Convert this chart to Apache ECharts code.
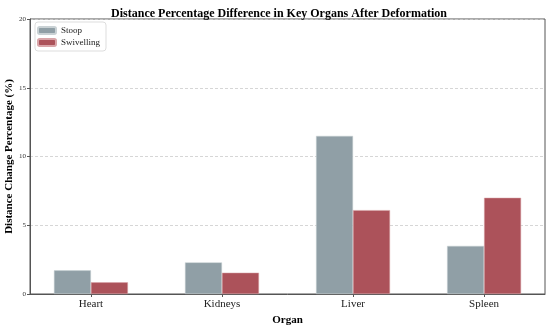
<!DOCTYPE html>
<html>
<head>
<meta charset="utf-8">
<script src="https://cdn.jsdelivr.net/npm/echarts@6/dist/echarts.min.js"></script>
<style>html,body{margin:0;padding:0;background:#fff}#c{width:550px;height:325px}</style>
</head>
<body>
<div id="c"></div>
<script>
const categories = ['Heart', 'Kidneys', 'Liver', 'Spleen'];
const stoop = [1.72, 2.3, 11.5, 3.5];
const swivelling = [0.85, 1.55, 6.1, 7.0];
const yTicks = [0, 5, 10, 15, 20];

const serif = '"Liberation Serif", "Times New Roman", serif';
const chart = echarts.init(document.getElementById('c'));
const idx = categories.map((_, i) => i);
chart.setOption({
  animation: false,
  title: {
    text: 'Distance Percentage Difference in Key Organs After Deformation',
    left: 274, top: 3, textAlign: 'center',
    textStyle: { fontFamily: serif, fontWeight: 'bold', fontSize: 12, color: '#000' }
  },
  legend: {
    orient: 'vertical', left: 35, top: 22,
    itemWidth: 18, itemHeight: 7, itemGap: 3,
    padding: [4, 6, 4, 2],
    backgroundColor: '#fff', borderColor: '#ddd', borderWidth: 1, borderRadius: 3,
    textStyle: { fontFamily: serif, fontSize: 9, color: '#222' },
    data: ['Stoop', 'Swivelling']
  },
  grid: { left: 30, right: 5, top: 19, bottom: 31, show: true, borderColor: '#555', borderWidth: 1, containLabel: false, outerBoundsMode: 'none' },
  xAxis: {
    type: 'value', min: -0.465, max: 3.465,
    name: 'Organ', nameLocation: 'middle', nameGap: 21,
    nameTextStyle: { fontFamily: serif, fontWeight: 'bold', fontSize: 11, color: '#000' },
    axisLine: { show: true, onZero: false, lineStyle: { color: '#555' } },
    axisTick: { show: true, customValues: idx, length: 3, lineStyle: { color: '#555' } },
    axisLabel: { customValues: idx, formatter: v => categories[Math.round(v)], fontFamily: serif, fontSize: 11, color: '#222', margin: 5 },
    splitLine: { show: false }
  },
  yAxis: {
    type: 'value', min: 0, max: 20, interval: 5,
    name: 'Distance Change Percentage (%)', nameLocation: 'middle', nameGap: 15,
    nameMoveOverlap: false,
    nameTextStyle: { fontFamily: serif, fontWeight: 'bold', fontSize: 11, color: '#000' },
    axisLine: { show: true, onZero: false, lineStyle: { color: '#555' } },
    axisTick: { show: true, length: 3, lineStyle: { color: '#555' } },
    axisLabel: { fontFamily: serif, fontSize: 7, color: '#333', margin: 4, formatter: v => yTicks.includes(v) ? String(v) : '' },
    splitLine: { show: true, lineStyle: { color: '#ccc', type: [3, 2], width: 0.8 } }
  },
  series: [
    {
      name: 'Stoop', type: 'bar', barWidth: 37, barGap: '0%',
      itemStyle: { color: '#909FA6', borderColor: '#c9d1d4', borderWidth: 0.5 },
      data: stoop.map((v, i) => [i, v])
    },
    {
      name: 'Swivelling', type: 'bar', barWidth: 37, barGap: '0%',
      itemStyle: { color: '#AC525A', borderColor: '#d9a5a9', borderWidth: 0.5 },
      data: swivelling.map((v, i) => [i, v])
    }
  ]
});
</script>
</body>
</html>
